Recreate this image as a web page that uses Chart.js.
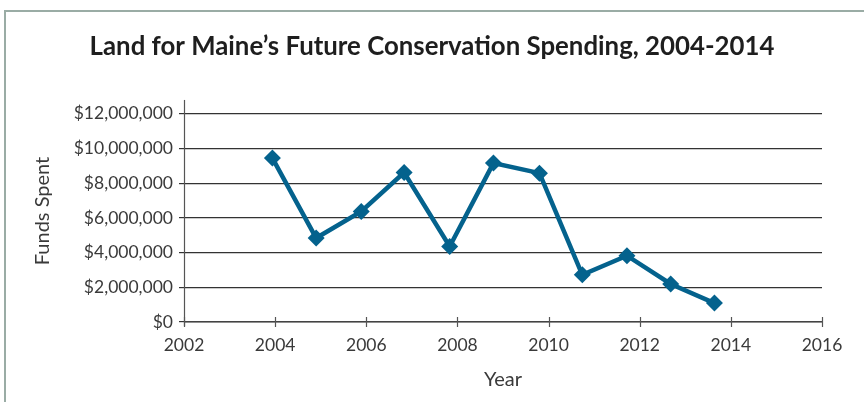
<!DOCTYPE html>
<html>
<head>
<meta charset="utf-8">
<script src="https://cdn.jsdelivr.net/npm/chart.js@4.4.1/dist/chart.umd.min.js"></script>
<style>
  html, body { margin: 0; padding: 0; background: #fff; }
  #wrap { position: relative; width: 864px; height: 402px; overflow: hidden; }
  #frame { position: absolute; left: 4px; top: 10px; width: 900px; height: 420px;
           border-top: 2px solid #9aaca5; border-left: 2px solid #9aaca5; }
  canvas { position: absolute; left: 0; top: 0; }
</style>
</head>
<body>
<div id="wrap">
  <div id="frame"></div>
  <canvas id="c" width="864" height="402"></canvas>
</div>
<script>
const titleText = "Land for Maine\u2019s Future Conservation Spending, 2004-2014";
const years = [2003.94, 2004.90, 2005.89, 2006.83, 2007.83, 2008.79, 2009.80, 2010.74, 2011.72, 2012.68, 2013.64];
const funds = [9450000, 4840000, 6370000, 8620000, 4350000, 9160000, 8580000, 2720000, 3820000, 2190000, 1090000];
const xTicks = [2002, 2004, 2006, 2008, 2010, 2012, 2014, 2016];
const yTicks = [0, 2000000, 4000000, 6000000, 8000000, 10000000, 12000000];

const points = years.map((x, i) => ({ x: x, y: funds[i] }));
const textColor = '#3a3a3a';
const lineBlue = '#04628d';
const FONT = 'Lato, "Open Sans", sans-serif';

const crossTicks = {
  id: 'crossTicks',
  beforeDatasetsDraw(chart) {
    const ctx = chart.ctx;
    const xs = chart.scales.x, ys = chart.scales.y;
    const y0 = ys.getPixelForValue(0);
    ctx.save();
    ctx.strokeStyle = '#555';
    ctx.lineWidth = 1.2;
    ctx.beginPath();
    ctx.moveTo(xs.left, y0); ctx.lineTo(xs.right, y0); ctx.stroke();
    xTicks.forEach(v => {
      const px = Math.round(xs.getPixelForValue(v)) + 0.5;
      ctx.beginPath(); ctx.moveTo(px, y0 - 5); ctx.lineTo(px, y0 + 5); ctx.stroke();
    });
    const ax = Math.round(xs.left) + 0.5;
    ctx.beginPath(); ctx.moveTo(ax, ys.top); ctx.lineTo(ax, y0 + 4); ctx.stroke();
    ctx.restore();
  }
};

new Chart(document.getElementById('c'), {
  type: 'line',
  data: {
    datasets: [{
      data: points,
      borderColor: lineBlue,
      backgroundColor: lineBlue,
      borderWidth: 4.5,
      pointStyle: 'rectRot',
      pointRadius: 8.5,
      pointHoverRadius: 8.5,
      pointBorderWidth: 0,
      tension: 0,
      fill: false
    }]
  },
  options: {
    responsive: false,
    animation: false,
    devicePixelRatio: 1,
    layout: { padding: 0 },
    plugins: {
      legend: { display: false },
      tooltip: { enabled: false },
      title: {
        display: true,
        text: titleText,
        color: '#1e1e1e',
        font: { family: FONT, size: 25.8, weight: 'bold', lineHeight: 1.2 },
        padding: { top: 31.5, bottom: 37.5 }
      }
    },
    scales: {
      x: {
        type: 'linear',
        min: 2002, max: 2016,
        afterBuildTicks: (s) => { s.ticks = xTicks.map(v => ({ value: v })); },
        afterFit: (s) => { s.height = 80; },
        grid: { display: false, drawTicks: false },
        border: { display: false },
        ticks: {
          color: textColor,
          font: { family: FONT, size: 17.5 },
          padding: 13,
          maxRotation: 0,
          callback: (v) => String(v)
        },
        title: {
          display: true, text: 'Year', color: textColor,
          font: { family: FONT, size: 20, lineHeight: 1.2 },
          padding: { top: 0, bottom: 10 }
        }
      },
      y: {
        min: 0, max: 12800000,
        afterBuildTicks: (s) => { s.ticks = yTicks.map(v => ({ value: v })); },
        afterFit: (s) => { s.width = 184; },
        grid: {
          color: '#333', lineWidth: 1.2,
          drawTicks: true, tickLength: 5
        },
        border: { display: false },
        ticks: {
          color: textColor,
          font: { family: FONT, size: 17.5 },
          padding: 6,
          callback: (v) => '$' + Number(v).toLocaleString('en-US')
        },
        title: {
          display: true, text: 'Funds Spent', color: textColor,
          font: { family: FONT, size: 20, lineHeight: 1.2 },
          padding: { top: 31, bottom: 0 }
        }
      },
      spacer: {
        type: 'linear',
        axis: 'y',
        position: 'right',
        min: 0, max: 1,
        afterFit: (s) => { s.width = 42; },
        grid: { display: false, drawTicks: false },
        border: { display: false },
        ticks: { display: false }
      }
    }
  },
  plugins: [crossTicks]
});
</script>
</body>
</html>
